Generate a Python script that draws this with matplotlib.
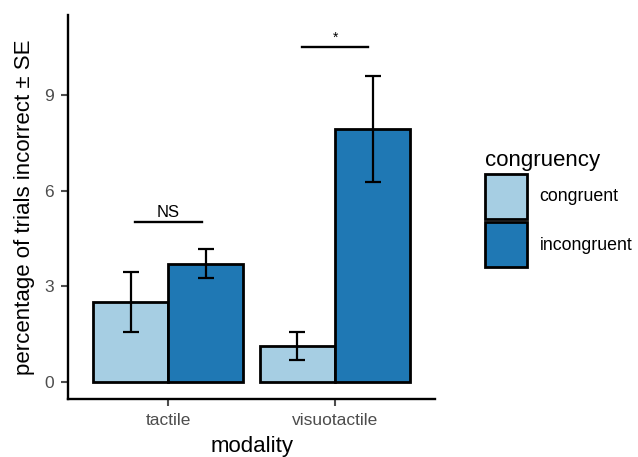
import matplotlib.pyplot as plt
from matplotlib.patches import Patch
import numpy as np

plt.rcParams['font.family'] = ['Liberation Sans', 'DejaVu Sans']

modality = ['tactile', 'visuotactile']
congruency = ['congruent', 'incongruent']
mean_congruent = [2.51, 1.13]
mean_incongruent = [3.71, 7.93]
se_congruent = [0.94, 0.44]
se_incongruent = [0.45, 1.66]
sig_labels = ['NS', '*']
sig_heights = [5.0, 10.5]

colors = ['#a6cee3', '#1f78b4']
grey = '#4d4d4d'

fig = plt.figure(figsize=(6.38, 4.57), dpi=100)
ax = fig.add_axes([0.1066, 0.127, 0.5755, 0.84])

x = np.arange(1, len(modality) + 1)
w = 0.45
means = [mean_congruent, mean_incongruent]
ses = [se_congruent, se_incongruent]
for i in range(2):
    pos = x + (i - 0.5) * w
    ax.bar(pos, means[i], width=w, color=colors[i], edgecolor='black',
           linewidth=2.0, zorder=2)
    ax.errorbar(pos, means[i], yerr=ses[i], fmt='none', ecolor='black',
                elinewidth=1.6, capsize=5.8, capthick=1.6, zorder=3)

# significance bars
for xi, lab, h in zip(x, sig_labels, sig_heights):
    ax.plot([xi - 0.2, xi + 0.2], [h, h], color='black', lw=1.7, zorder=3)
    ax.text(xi, h + 0.08, lab, ha='center', va='bottom',
            fontsize=12 if lab == 'NS' else 10, color='black')

ax.set_xlim(0.4, 2.6)
ax.set_ylim(-0.53, 11.5)
ax.set_xticks(x)
ax.set_xticklabels(modality)
ax.set_yticks([0, 3, 6, 9])
ax.tick_params(axis='both', colors=grey, labelsize=12.5, length=5, width=1.5,
               pad=5)
for lab in ax.get_xticklabels() + ax.get_yticklabels():
    lab.set_color(grey)
ax.spines['top'].set_visible(False)
ax.spines['right'].set_visible(False)
for s in ['left', 'bottom']:
    ax.spines[s].set_linewidth(1.7)
ax.set_xlabel('modality', fontsize=16, labelpad=6)
ax.set_ylabel('percentage of trials incorrect \u00b1 SE', fontsize=16, labelpad=7)

handles = [Patch(facecolor=c, edgecolor='black', linewidth=2.0) for c in colors]
leg = fig.legend(handles, congruency, title='congruency', loc='upper left',
                 bbox_to_anchor=(0.740, 0.700), frameon=False, fontsize=12.8,
                 title_fontsize=16, handlelength=2.4, handleheight=3.5,
                 labelspacing=0.2, handletextpad=0.7, alignment='left',
                 borderpad=0.2)

fig.savefig('out.png', dpi=100)
